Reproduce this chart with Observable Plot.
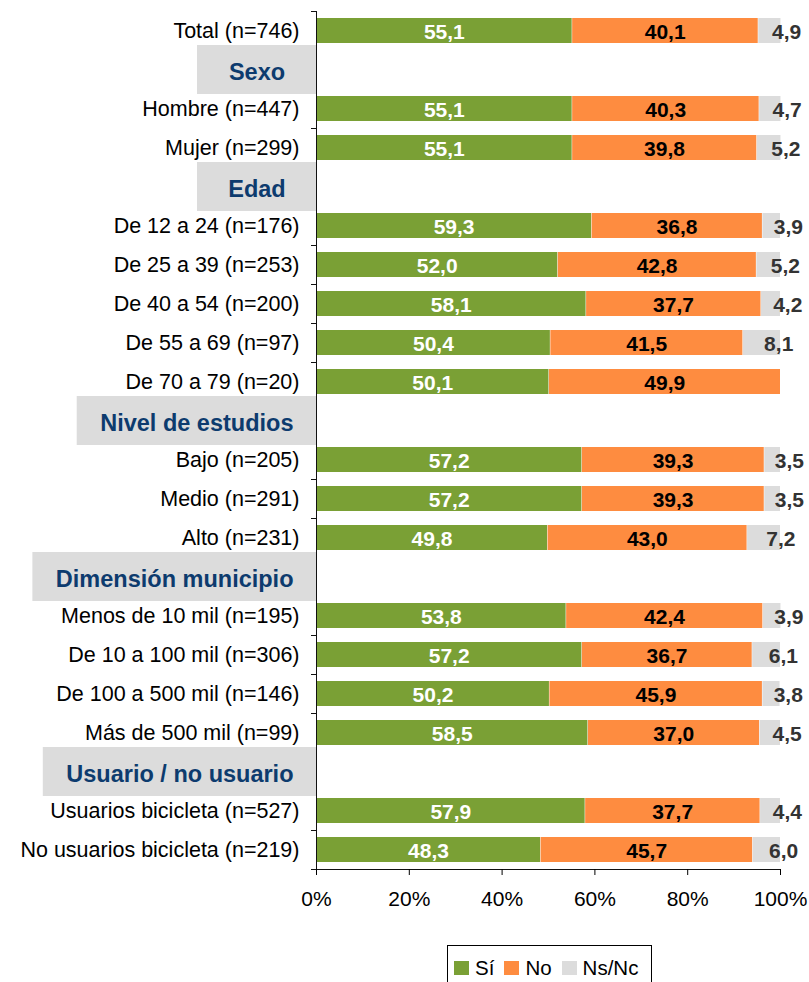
<!DOCTYPE html>
<html><head><meta charset="utf-8">
<script src="https://cdn.jsdelivr.net/npm/d3@7"></script>
<script src="https://cdn.jsdelivr.net/npm/@observablehq/plot@0.6"></script>
<style>
body{margin:0;background:#fff;font-family:"Liberation Sans",Arial,sans-serif;}
#wrap{position:relative;width:809px;height:982px;overflow:hidden;}
#legend{position:absolute;left:447px;top:945px;width:197px;height:44px;border:1px solid #000;box-sizing:content-box;display:flex;align-items:center;padding-left:6px;font-size:20.5px;color:#000;}
#legend .sw{display:inline-block;width:15px;height:14px;margin-right:6px;}
#legend .it{display:flex;align-items:center;margin-right:10px;}
</style></head><body><div id="wrap"><div id="chart"></div><div id="legend"></div></div>
<script>
const rows = ["Total (n=746)", "Sexo", "Hombre (n=447)", "Mujer (n=299)", "Edad",
  "De 12 a 24 (n=176)", "De 25 a 39 (n=253)", "De 40 a 54 (n=200)", "De 55 a 69 (n=97)", "De 70 a 79 (n=20)",
  "Nivel de estudios", "Bajo (n=205)", "Medio (n=291)", "Alto (n=231)",
  "Dimensión municipio", "Menos de 10 mil (n=195)", "De 10 a 100 mil (n=306)", "De 100 a 500 mil (n=146)", "Más de 500 mil (n=99)",
  "Usuario / no usuario", "Usuarios bicicleta (n=527)", "No usuarios bicicleta (n=219)"];
const headers = ["Sexo", "Edad", "Nivel de estudios", "Dimensión municipio", "Usuario / no usuario"];
const series = ["Sí", "No", "Ns/Nc"];
const si = [55.1, null, 55.1, 55.1, null, 59.3, 52.0, 58.1, 50.4, 50.1, null, 57.2, 57.2, 49.8, null, 53.8, 57.2, 50.2, 58.5, null, 57.9, 48.3];
const no = [40.1, null, 40.3, 39.8, null, 36.8, 42.8, 37.7, 41.5, 49.9, null, 39.3, 39.3, 43.0, null, 42.4, 36.7, 45.9, 37.0, null, 37.7, 45.7];
const ns = [4.9, null, 4.7, 5.2, null, 3.9, 5.2, 4.2, 8.1, null, null, 3.5, 3.5, 7.2, null, 3.9, 6.1, 3.8, 4.5, null, 4.4, 6.0];
const xTicks = [0, 20, 40, 60, 80, 100];
const colors = ["#7aa035", "#fe8c40", "#dcdcdc"];

const W = 809, H = 930, mL = 316, mR = 29, mT = 11, mB = 61;
const pxu = (W - mL - mR) / 100;
const step = (H - mT - mB) / rows.length;

const long = [];
rows.forEach((r, i) => {
  if (si[i] == null) return;
  [si[i], no[i], ns[i]].forEach((v, j) => { if (v != null) long.push({row: r, series: series[j], value: v}); });
});
const fmt = v => v.toFixed(1).replace(".", ",");

const ctx = document.createElement("canvas").getContext("2d");
ctx.font = "bold 23.5px 'Liberation Sans', Arial, sans-serif";
const headerData = headers.map(h => {
  const w = ctx.measureText(h).width;
  const bw = Math.max(w + 46, 119);
  return {row: h, x1: -bw / pxu, xc: -bw / 2 / pxu};
});

const lab = (name) => d => d.series === name ? fmt(d.value) : "";

const chart = Plot.plot({
  width: W, height: H, marginLeft: mL, marginRight: mR, marginTop: mT, marginBottom: mB,
  style: {fontFamily: "'Liberation Sans', Arial, sans-serif", fontSize: "21px", background: "#fff", color: "#000"},
  x: {domain: [0, 100]},
  y: {domain: rows, paddingInner: 0.36, paddingOuter: 0.18},
  color: {domain: series, range: colors},
  marks: [
    Plot.ruleY(rows, {y: d => d, x1: 0, x2: 0, insetLeft: -5, dy: -step / 2, stroke: "#111"}),
    Plot.ruleY([rows[rows.length - 1]], {y: d => d, x1: 0, x2: 100, insetLeft: -5, dy: step / 2, stroke: "#111"}),
    Plot.barX(headerData, {y: "row", x1: "x1", x2: 0, fill: "#dcdcdc", insetTop: -12, insetBottom: -12, insetRight: -1}),
    Plot.barX(long, {x: "value", y: "row", fill: "series", insetLeft: 0.5}),
    Plot.ruleX([0], {stroke: "#111"}),
    Plot.text(long, Plot.stackX({x: "value", y: "row", z: "series", text: lab("Sí"), fill: "#fff", fontWeight: "bold", fontSize: 21, dy: 1})),
    Plot.text(long, Plot.stackX({x: "value", y: "row", z: "series", text: lab("No"), fill: "#000", fontWeight: "bold", fontSize: 21, dy: 1})),
    Plot.text(long, Plot.stackX({x: "value", y: "row", z: "series", text: lab("Ns/Nc"), fill: "#333", fontWeight: "bold", fontSize: 21, dx: 17, dy: 1})),
    Plot.text(headerData, {y: "row", x: "xc", text: "row", fill: "#0d3b6e", fontWeight: "bold", fontSize: 23.5, dy: 2}),
    Plot.axisY({tickSize: 0, tickPadding: 17, tickFormat: d => headers.includes(d) ? "" : d, label: null, fontSize: 21.5}),
    Plot.axisX({ticks: xTicks, tickSize: 6, tickPadding: 16, tickFormat: d => d + "%", label: null, fontSize: 21})
  ]
});
document.getElementById("chart").appendChild(chart);

const legend = document.getElementById("legend");
series.forEach((s, i) => {
  const it = document.createElement("span");
  it.className = "it";
  const sw = document.createElement("span");
  sw.className = "sw";
  sw.style.background = colors[i];
  const t = document.createElement("span");
  t.textContent = s;
  it.appendChild(sw); it.appendChild(t);
  legend.appendChild(it);
});
</script></body></html>
